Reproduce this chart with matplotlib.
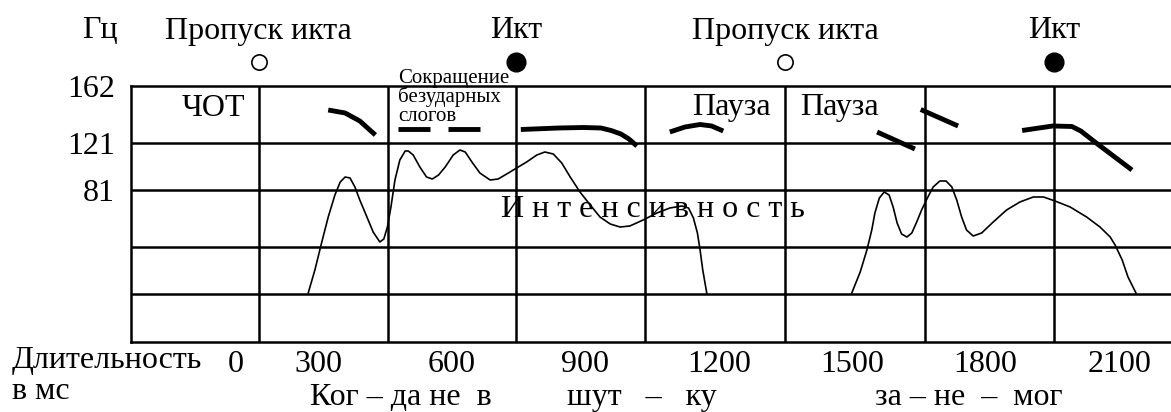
import matplotlib
matplotlib.use("Agg")
import matplotlib.pyplot as plt
from matplotlib.transforms import ScaledTranslation

plt.rcParams["font.family"] = ["Liberation Serif", "DejaVu Serif"]

# time axis in ms, vertical axis is the height in the schematic (bottom line = 0)
tick_values = [0, 300, 600, 900, 1200, 1500, 1800, 2100]
tick_labels = ["0", "300", "600", "900", "1200", "1500", "1800", "2100"]
f0_levels = [256, 199, 152]
f0_labels = ["162", "121", "81"]
row_lines = [48, 95, 152, 199]
bar_lines = [166, 456, 744, 1034, 1349, 1664, 1954]

# ictus marks above the grid
ictus_pos = [166, 744, 1349, 1954]
ictus_names = ["Пропуск икта", "Икт", "Пропуск икта", "Икт"]
ictus_filled = [False, True, False, True]

# ЧОТ (pitch) contour pieces
f0_segments = [
    ([322, 360, 393, 428], [232, 229, 221, 207]),
    ([479, 551], [213, 213]),
    ([591, 663], [213, 213]),
    ([755, 840, 895, 935, 958, 980, 998, 1016], [212.5, 214, 214.5, 214, 211.5, 208, 203, 196]),
    ([1090, 1124, 1158, 1184, 1210], [210, 215, 217.5, 216, 211]),
    ([1556, 1641], [210, 193]),
    ([1654, 1738], [232.5, 216]),
    ([1882, 1920, 1951, 1994, 2014, 2050, 2129], [211.5, 214, 216, 215.5, 211, 198.5, 172]),
]

# intensity curve, two phrases
int1_t = [277, 292, 307, 322, 337, 349, 360, 371, 382, 393, 409, 423, 438, 447, 455,
          463, 472, 483, 495, 502, 513, 528, 543, 556, 570, 585, 603, 618, 630, 645,
          663, 686, 704, 727, 753, 768, 791, 809, 828, 847, 866, 888, 911, 933, 956,
          978, 1000, 1030, 1061, 1090, 1117, 1132, 1143, 1152, 1158, 1164, 1173]
int1_y = [49, 72, 99, 125, 147, 160, 165, 164, 155, 142, 125, 110, 100, 103, 115,
          135, 162, 182, 191, 191, 187, 175, 165, 163, 167, 175, 187, 192, 190, 180,
          169, 162, 163, 169, 176, 180, 187, 190, 188, 179, 165, 150, 137, 125, 118,
          115, 116, 122, 129, 134, 136, 134, 124, 109, 92, 72, 49]
int2_t = [1499, 1518, 1533, 1544, 1551, 1561, 1572, 1583, 1592, 1601, 1611, 1623, 1634,
          1645, 1656, 1669, 1682, 1697, 1711, 1724, 1735, 1746, 1757, 1772, 1791, 1817,
          1847, 1877, 1907, 1930, 1956, 1990, 2027, 2057, 2080, 2091, 2107, 2120, 2138]
int2_y = [49, 70, 92, 112, 129, 144, 150, 147, 135, 119, 108, 105, 109,
          120, 132, 144, 155, 161, 161, 155, 142, 125, 112, 106, 109, 120,
          132, 140, 145, 145, 141, 135, 125, 115, 105, 97, 82, 65, 49]

note_lines = ["Сокращение", "безударных", "слогов"]
pause_pos = [1140, 1383]
syllables = ["Ког – да не  в", "шут   –   ку", "за – не  –  мог"]
syllable_pos = [281, 859, 1551]

FS = 23
fig = plt.figure(figsize=(11.71, 4.12), dpi=100)
ax = fig.add_axes([131 / 1171, 70 / 412, 1040 / 1171, 256 / 412])
ax.set_xlim(-121.4, 2216.7)
ax.set_ylim(0, 256)

for side in ["left", "top", "bottom"]:
    ax.spines[side].set_linewidth(1.8)
ax.spines["right"].set_visible(False)
for y in row_lines:
    ax.axhline(y, color="black", lw=1.8)
for x in bar_lines:
    ax.axvline(x, color="black", lw=1.8)

ax.set_yticks(f0_levels, f0_labels)
ax.set_xticks(tick_values, tick_labels)
ax.tick_params(length=0, labelsize=FS)
ax.tick_params(axis="y", pad=11.5)
ax.tick_params(axis="x", pad=21.4)
for lab in ax.get_xticklabels():
    lab.set_va("baseline")
# the "0" label sits further right than its value in the original drawing
zero = ax.get_xticklabels()[0]
zero.set_transform(zero.get_transform() + ScaledTranslation(0.51, 0, fig.dpi_scale_trans))

# pitch and intensity
for t, y in f0_segments:
    ax.plot(t, y, color="black", lw=3.5, solid_capstyle="butt")
ax.plot(int1_t, int1_y, color="black", lw=1.2)
ax.plot(int2_t, int2_y, color="black", lw=1.2)

# ictus marks
for x, name, filled in zip(ictus_pos, ictus_names, ictus_filled):
    ax.text(x, 303.5, name, ha="center", va="baseline", fontsize=FS, clip_on=False)
    if filled:
        ax.plot(x, 280.5, "o", ms=13.5, color="black", clip_on=False)
    else:
        ax.plot(x, 280, "o", ms=11, mfc="white", mec="black", mew=1.2, clip_on=False)

ax.text(-192, 303.5, "Гц", ha="center", va="baseline", fontsize=FS, clip_on=False)
ax.text(63, 226, "ЧОТ", ha="center", va="baseline", fontsize=FS)
for x in pause_pos:
    ax.text(x, 227, "Пауза", ha="left", va="baseline", fontsize=FS)
for i, line in enumerate(note_lines):
    ax.text(479, 259.3 - 19 * i, line, ha="left", va="baseline", fontsize=15, clip_on=False)
ax.text(1052, 125, "И н т е н с и в н о с т ь", ha="center", va="baseline", fontsize=FS)

ax.text(-389, -26, "Длительность", ha="left", va="baseline", fontsize=FS, clip_on=False)
ax.text(-389, -57, "в мс", ha="left", va="baseline", fontsize=FS, clip_on=False)
for x, s in zip(syllable_pos, syllables):
    ax.text(x, -63, s, ha="left", va="baseline", fontsize=FS, clip_on=False)

fig.savefig("out.png", dpi=100)
